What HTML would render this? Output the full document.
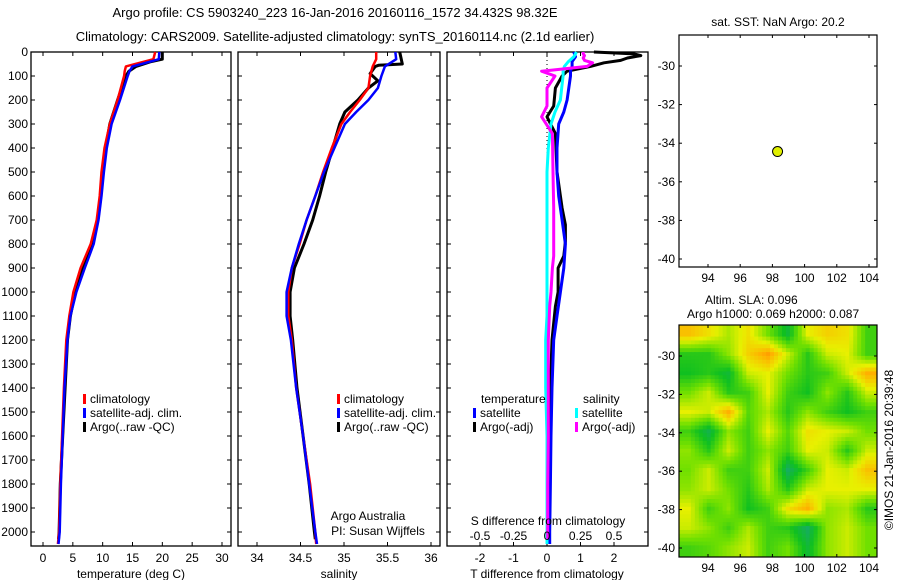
<!DOCTYPE html>
<html><head><meta charset="utf-8"><style>
html,body{margin:0;padding:0;background:#fff}
svg{display:block;font-family:"Liberation Sans",sans-serif;font-size:12px}
</style></head><body>
<svg id="c" width="900" height="580" viewBox="0 0 900 580" xmlns="http://www.w3.org/2000/svg">
<defs>
<clipPath id="mapclip"><rect x="679" y="325" width="198" height="232"/></clipPath>
</defs>
<text x="335" y="17" text-anchor="middle" font-size="13">Argo profile: CS 5903240_223 16-Jan-2016 20160116_1572 34.432S 98.32E</text>
<text x="335" y="41" text-anchor="middle" font-size="13">Climatology: CARS2009. Satellite-adjusted climatology: synTS_20160114.nc (2.1d earlier)</text>
<g id="root"></g>
</svg>
<script>
// ---- data ----
const depthT = [0,30,40,60,80,100,200,300,400,500,600,700,800,900,1000,1100,1200,1400,1600,1800,2000,2050];
const tempClim = [18.8,18.5,17.0,13.9,13.7,13.6,12.5,11.2,10.3,9.8,9.5,9.0,8.0,6.3,5.1,4.4,3.9,3.5,3.2,2.9,2.7,2.5];
const tempSat  = [19.5,19.4,18.0,15.0,14.5,14.2,12.9,11.5,10.7,10.2,9.8,9.3,8.5,7.0,5.6,4.6,4.1,3.6,3.3,3.0,2.8,2.6];
const depthArgoT = [0,30,40,60,80,100,200,300,400,500,600,700,800,900,1000,1100,1200,1400,1600,1800,2000,2030];
const tempArgo = [20.0,20.0,18.1,15.6,14.4,13.9,12.5,11.2,10.5,10.0,9.7,9.2,8.3,6.6,5.4,4.6,4.1,3.7,3.3,2.9,2.7,2.6];

const depthS = [0,30,60,100,150,200,250,300,400,500,600,700,800,900,1000,1100,1200,1400,1600,1800,2000,2050];
const salClim = [35.37,35.37,35.33,35.30,35.28,35.18,35.07,34.97,34.86,34.76,34.67,34.57,34.49,34.40,34.36,34.36,34.40,34.45,34.53,34.61,34.67,34.68];
const salSat  = [35.59,35.60,35.47,35.43,35.39,35.28,35.14,35.01,34.89,34.77,34.67,34.57,34.48,34.40,34.34,34.34,34.39,34.45,34.53,34.60,34.67,34.69];
const depthArgoS = [0,50,55,60,90,100,120,150,200,250,300,400,500,600,700,800,900,1000,1100,1200,1400,1600,1800,2000,2030];
const salArgo = [35.64,35.67,35.40,35.36,35.30,35.33,35.39,35.28,35.16,35.01,34.95,34.87,34.79,34.72,34.64,34.54,34.43,34.38,34.38,34.41,34.46,34.53,34.60,34.66,34.67];

const depthD = [0,20,40,60,80,100,150,200,250,300,400,500,600,700,800,900,1000,1100,1200,1400,1600,1800,2000,2050];
const dTsat  = [0.8,0.85,0.75,0.75,0.7,0.7,0.65,0.6,0.5,0.35,0.3,0.3,0.35,0.45,0.55,0.5,0.4,0.3,0.2,0.15,0.12,0.1,0.08,0.08];
const dSsat  = [0.22,0.2,0.16,0.13,0.12,0.12,0.11,0.1,0.06,0.03,0.01,0.0,0.0,0.0,0.0,0.0,0.0,0.0,-0.01,-0.01,0.0,0.0,0.0,0.0];
const depthDA = [0,8,15,25,35,45,60,80,100,150,225,270,340,500,650,720,790,850,900,1000,1060,1200,1400,1600,1800,2000,2030];
const dTargo = [1.4,2.6,2.8,2.4,2.2,1.7,1.3,0.6,0.45,0.25,0.2,0.0,0.25,0.3,0.45,0.55,0.55,0.5,0.33,0.33,0.25,0.15,0.1,0.08,0.07,0.05,0.05];
const dSargo = [0.27,0.27,0.28,0.27,0.28,0.34,0.3,-0.04,0.06,0.0,0.0,-0.04,0.04,0.045,0.05,0.05,0.05,0.05,0.04,0.03,0.02,0.01,0.01,0.01,0.005,0.005,0.005];

const tempTicks = [0,5,10,15,20,25,30];
const salTicks = [34,34.5,35,35.5,36];
const salTickLabels = ["34","34.5","35","35.5","36"];
const dTTicks = [-2,-1,0,1,2];
const dSTicks = [-0.5,-0.25,0,0.25,0.5];
const depthTicks = [0,100,200,300,400,500,600,700,800,900,1000,1100,1200,1300,1400,1500,1600,1700,1800,1900,2000];
const lonTicks = [94,96,98,100,102,104];
const latTicks = [-30,-32,-34,-36,-38,-40];
const argoLon = [98.32];
const argoLat = [-34.432];
const slaGrid = [
[0.8,0.7,0.55,0.7,0.45,0.2,0.65,0.75,0.7,0.35],
[0.3,0.3,0.5,0.75,0.9,0.6,0.3,0.6,0.65,0.35],
[0.25,0.3,0.2,0.6,0.65,0.45,0.3,0.35,0.6,0.85],
[0.45,0.6,0.3,0.35,0.65,0.35,0.25,0.5,0.3,0.6],
[0.65,0.6,0.85,0.4,0.55,0.3,0.5,0.35,0.25,0.35],
[0.35,0.15,0.5,0.35,0.65,0.4,0.7,0.65,0.6,0.45],
[0.5,0.3,0.6,0.35,0.5,0.35,0.65,0.6,0.3,0.6],
[0.45,0.6,0.35,0.35,0.6,0.1,0.35,0.65,0.6,0.8],
[0.5,0.6,0.45,0.3,0.55,0.3,0.6,0.65,0.65,0.65],
[0.65,0.35,0.5,0.25,0.35,0.7,0.85,0.5,0.55,0.3],
[0.6,0.5,0.35,0.55,0.35,0.3,0.1,0.5,0.6,0.45],
[0.35,0.4,0.5,0.6,0.35,0.45,0.2,0.5,0.6,0.45]];

// ---- helpers ----
const NS="http://www.w3.org/2000/svg";
const root=document.getElementById('root');
function el(tag,attrs,parent,text){const e=document.createElementNS(NS,tag);for(const k in attrs)e.setAttribute(k,attrs[k]);if(text!==undefined)e.textContent=text;(parent||root).appendChild(e);return e;}
const Y0=52, PX100=24;
const yD=d=>Y0+d*PX100/100;
function lin(d0,d1,r0,r1){return v=>r0+(v-d0)*(r1-r0)/(d1-d0);}
const xT=lin(0,30,43,222), xS=lin(34,36,257,431), xDT=lin(0,1,547,580.5), xDS=lin(0,1,547,681);
const lonX=lin(94,104,708,869), latY1=lin(-30,-40,66,259), latY2=lin(-30,-40,356,548);
const PT=546;

function panel(x0,x1,name){
  const g=el('g',{});
  
  
  el('rect',{x:x0,y:Y0,width:x1-x0,height:PT-Y0,fill:'none',stroke:'#000','stroke-width':1.3},g);
  depthTicks.forEach(d=>{el('line',{x1:x0,x2:x0+4,y1:yD(d),y2:yD(d),stroke:'#000'},g);el('line',{x1:x1-4,x2:x1,y1:yD(d),y2:yD(d),stroke:'#000'},g);});
  return g;
}
function line(xs,ds,xf,color,w,name,parent){
  const pts=xs.map((v,i)=>xf(v).toFixed(1)+','+yD(ds[i]).toFixed(1)).join(' ');
  const p=el('polyline',{points:pts,fill:'none',stroke:color,'stroke-width':w,'stroke-linejoin':'round'},parent);
  
  
}
function xticks(g,ticks,xf,labels,ly,top,bottom){
  ticks.forEach((t,i)=>{const x=xf(t);
    if(top)el('line',{x1:x,x2:x,y1:Y0,y2:Y0+4,stroke:'#000'},g);
    if(bottom)el('line',{x1:x,x2:x,y1:PT-4,y2:PT,stroke:'#000'},g);
    if(ly){const tx=el('text',{x:x,y:ly,'text-anchor':'middle'},g,labels?labels[i]:String(t));
      
      }
  });
}
function legend(g,x,y,items){
  items.forEach((it,i)=>{
    el('rect',{x:x,y:y+i*14-9,width:3,height:10,fill:it[1]},g);
    const t=el('text',{x:x+7,y:y+i*14},g,it[0]);
    
    
  });
}

depthTicks.forEach(d=>{const t=el('text',{x:28,y:yD(d)+4,'text-anchor':'end'},root,String(d));
  
  });

// Panel 1 temperature
const g1=panel(31,231,'temperature-panel');
xticks(g1,tempTicks,xT,null,562,true,true);
line(tempArgo,depthArgoT,xT,'#000',3,'temp-argo-line',g1);
line(tempClim,depthT,xT,'#f00',2.5,'temp-climatology-line',g1);
line(tempSat,depthT,xT,'#00f',2.5,'temp-satellite-line',g1);
legend(g1,83,403,[['climatology','#f00'],['satellite-adj. clim.','#00f'],['Argo(..raw -QC)','#000']]);
el('text',{x:131,y:578,'text-anchor':'middle',},root,'temperature (deg C)');

// Panel 2 salinity
const g2=panel(238,440,'salinity-panel');
xticks(g2,salTicks,xS,salTickLabels,562,true,true);
line(salArgo,depthArgoS,xS,'#000',3,'sal-argo-line',g2);
line(salClim,depthS,xS,'#f00',2.5,'sal-climatology-line',g2);
line(salSat,depthS,xS,'#00f',2.5,'sal-satellite-line',g2);
legend(g2,337,403,[['climatology','#f00'],['satellite-adj. clim.','#00f'],['Argo(..raw -QC)','#000']]);
el('text',{x:368,y:520,'text-anchor':'middle',},root,'Argo Australia');
el('text',{x:378,y:535,'text-anchor':'middle',},root,'PI: Susan Wijffels');
el('text',{x:339,y:578,'text-anchor':'middle',},root,'salinity');

// Panel 3 differences
const g3=panel(447,648,'difference-panel');
dSTicks.forEach(t=>{const x=xDS(t);el('line',{x1:x,x2:x,y1:Y0,y2:Y0+4,stroke:'#000'},g3);});
xticks(g3,dTTicks,xDT,null,562,false,true);
el('line',{x1:547,x2:547,y1:Y0,y2:360,stroke:'#000','stroke-dasharray':'1,3'},g3);
line(dTargo,depthDA,xDT,'#000',3,'dT-argo-line',g3);
line(dTsat,depthD,xDT,'#00f',3,'dT-satellite-line',g3);
line(dSsat,depthD,xDS,'#0ff',3,'dS-satellite-line',g3);
line(dSargo,depthDA,xDS,'#f0f',3,'dS-argo-line',g3);
el('text',{x:481,y:403,},g3,'temperature');
el('text',{x:583,y:403,},g3,'salinity');
legend(g3,473,417,[['satellite','#00f'],['Argo(-adj)','#000']]);
legend(g3,575,417,[['satellite','#0ff'],['Argo(-adj)','#f0f']]);
el('text',{x:548,y:525,'text-anchor':'middle',},root,'S difference from climatology');
dSTicks.forEach((t,i)=>{const tx=el('text',{x:xDS(t),y:540,'text-anchor':'middle'},root,String(t));
  
  });
el('text',{x:547,y:578,'text-anchor':'middle',},root,'T difference from climatology');

function mapFrame(name){
  const g=el('g',{});
  
  
  return g;
}
function mapAxes(g,y0,y1,latY,showLon){
  el('rect',{x:679,y:y0,width:198,height:y1-y0,fill:'none',stroke:'#000','stroke-width':1.2},g);
  lonTicks.forEach(l=>{const x=lonX(l);el('line',{x1:x,x2:x,y1:y0,y2:y0+3,stroke:'#000'},g);el('line',{x1:x,x2:x,y1:y1-3,y2:y1,stroke:'#000'},g);
    if(showLon){const t=el('text',{x:x,y:y1+15,'text-anchor':'middle'},g,String(l));
      
      }});
  latTicks.forEach(l=>{const y=latY(l);el('line',{x1:679,x2:682,y1:y,y2:y,stroke:'#000'},g);el('line',{x1:874,x2:877,y1:y,y2:y,stroke:'#000'},g);
    const t=el('text',{x:675,y:y+4,'text-anchor':'end'},g,String(l));
    
    });
}
const m1=mapFrame('sst-map');
el('text',{x:778,y:26,'text-anchor':'middle',},m1,'sat. SST: NaN Argo: 20.2');
mapAxes(m1,35,267,latY1,true);
argoLon.forEach((lo,i)=>{const c=el('circle',{cx:lonX(lo),cy:latY1(argoLat[i]),r:5,fill:'#e0f000',stroke:'#000','stroke-width':1},m1);
  
  });
el('text',{x:705,y:304,},root,'Altim. SLA: 0.096');
el('text',{x:687,y:318,},root,'Argo h1000: 0.069 h2000: 0.087');

// SLA heatmap (bilinear smoothed rendering of slaGrid)
const stops=[[0,[26,160,138]],[0.25,[16,192,32]],[0.45,[112,224,0]],[0.65,[232,240,0]],[0.85,[255,176,0]],[1,[255,128,0]]];
function cmap(v){for(let i=1;i<stops.length;i++){if(v<=stops[i][0]){const a=stops[i-1],b=stops[i],f=(v-a[0])/(b[0]-a[0]);return 'rgb('+a[1].map((c,k)=>Math.round(c+(b[1][k]-c)*f)).join(',')+')';}}return 'rgb(255,128,0)';}
const m2=mapFrame('sla-map');
const hg=el('g',{'clip-path':'url(#mapclip)'},m2);
const nR=slaGrid.length,nC=slaGrid[0].length,cw=198/nC,ch=232/nR;
function sample(r,c){ // fractional grid coords, cell centres at integers
  r=Math.max(0,Math.min(nR-1,r));c=Math.max(0,Math.min(nC-1,c));
  const r0=Math.floor(r),c0=Math.floor(c),r1=Math.min(nR-1,r0+1),c1=Math.min(nC-1,c0+1),fr=r-r0,fc=c-c0;
  const a=slaGrid[r0][c0]*(1-fc)+slaGrid[r0][c1]*fc, b=slaGrid[r1][c0]*(1-fc)+slaGrid[r1][c1]*fc;
  return a*(1-fr)+b*fr;
}
const SUB=5;
for(let i=0;i<nR*SUB;i++){for(let j=0;j<nC*SUB;j++){
  const r=(i+0.5)/SUB-0.5,c=(j+0.5)/SUB-0.5;
  const rc=el('rect',{x:(679+j*cw/SUB).toFixed(2),y:(325+i*ch/SUB).toFixed(2),width:(cw/SUB+0.4).toFixed(2),height:(ch/SUB+0.4).toFixed(2),fill:cmap(sample(r,c))},hg);
  
  
}}
mapAxes(m2,325,557,latY2,true);
el('text',{x:0,y:0,transform:'translate(893,450) rotate(-90)','text-anchor':'middle',},root,'©IMOS 21-Jan-2016 20:39:48');
</script>
</body></html>
